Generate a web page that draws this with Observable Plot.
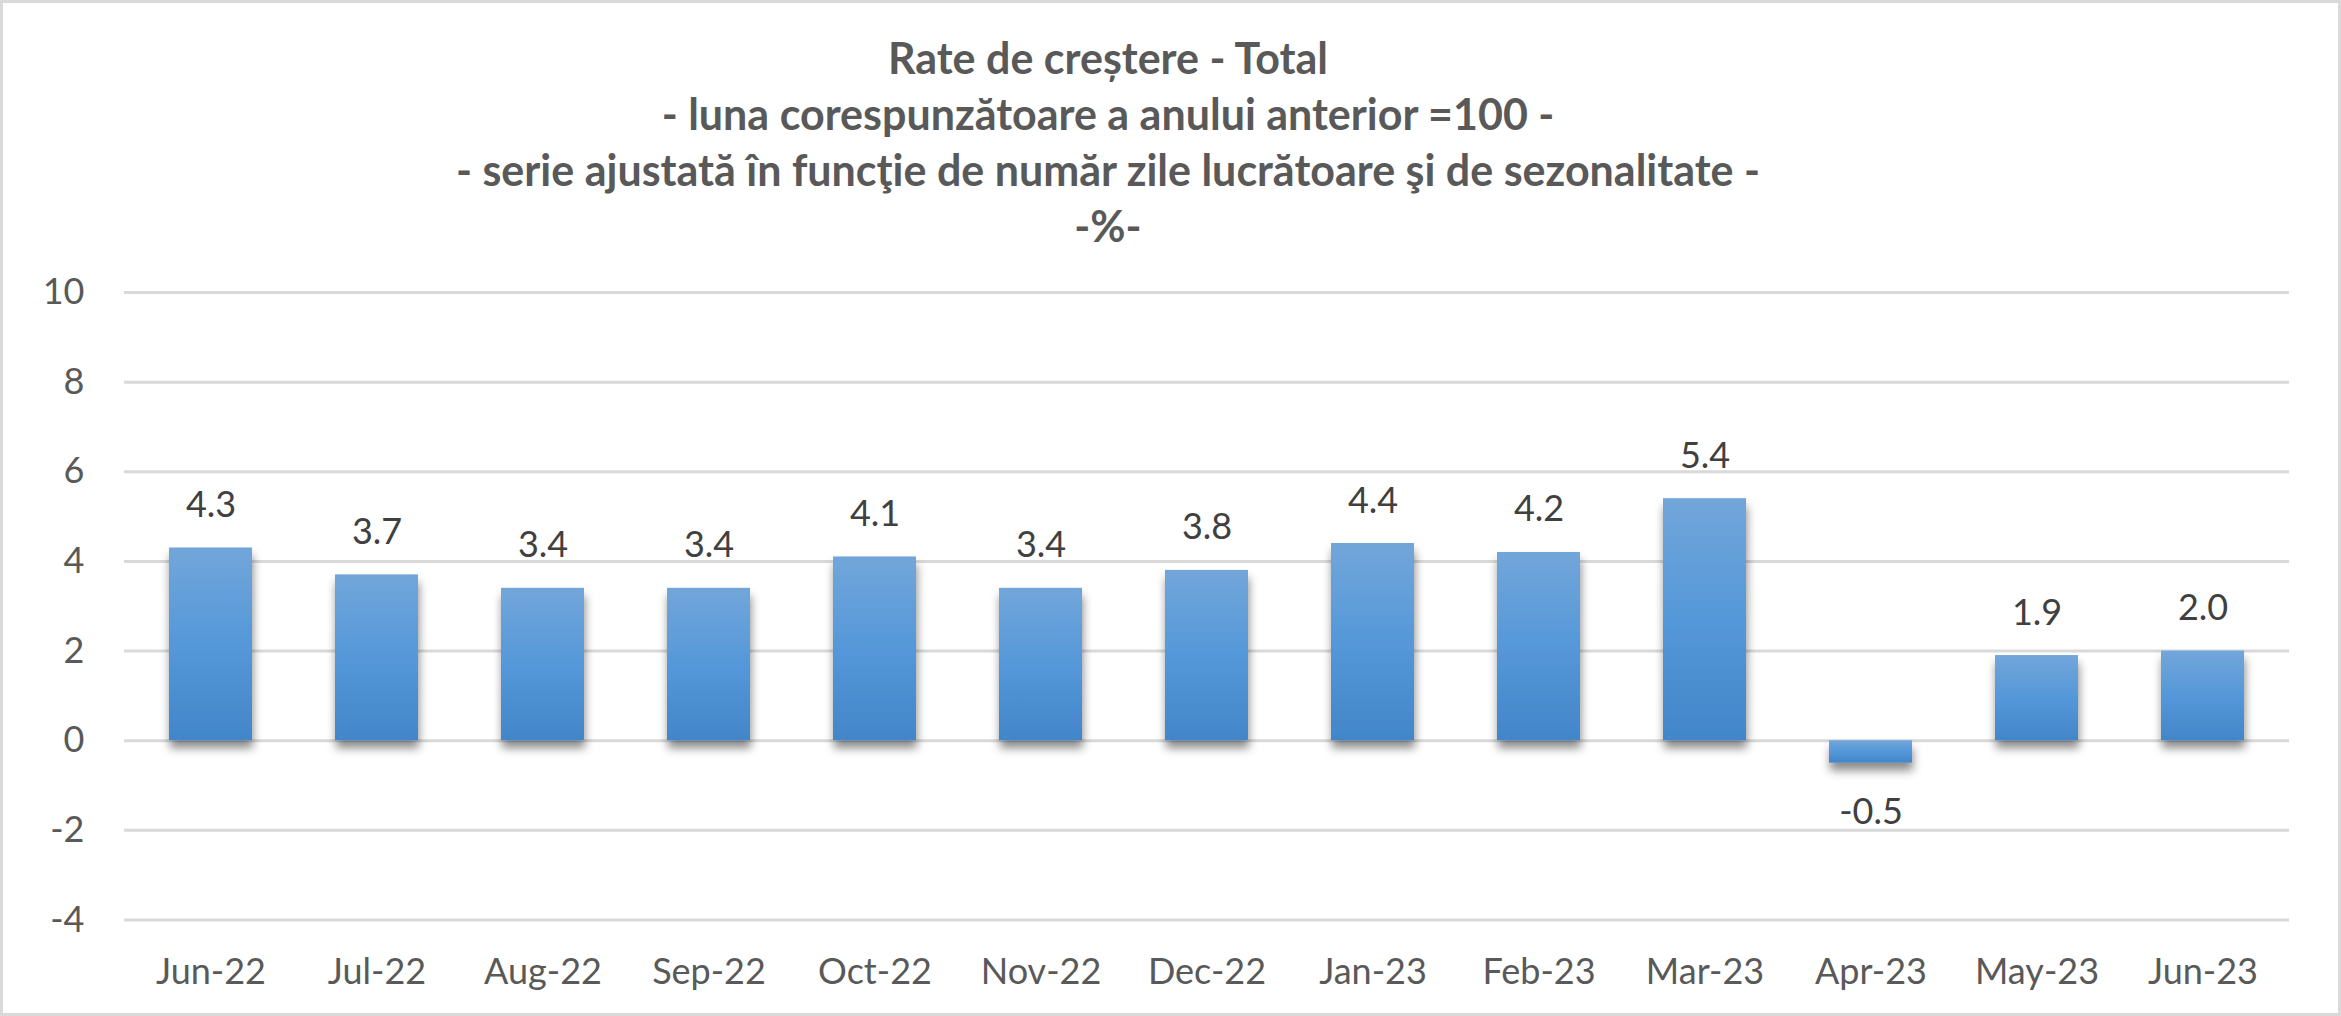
<!DOCTYPE html>
<html>
<head>
<meta charset="utf-8">
<script src="https://cdn.jsdelivr.net/npm/d3@7"></script>
<script src="https://cdn.jsdelivr.net/npm/@observablehq/plot@0.6"></script>
<style>
  html, body { margin: 0; padding: 0; background: #ffffff; }
  #wrap { position: relative; width: 2341px; height: 1016px; overflow: hidden; background: #fff; }
  #frame { position: absolute; left: 0; top: 0; width: 2341px; height: 1016px; box-sizing: border-box; border: 3px solid #d9d9d9; pointer-events: none; }
  #title { position: absolute; left: 308px; top: 30px; width: 1600px; text-align: center;
           font-family: Lato, "Open Sans", sans-serif; font-weight: 700; font-size: 43px; line-height: 56px; color: #595959; }
  #chart { position: absolute; left: 0; top: 262px; }
</style>
</head>
<body>
<div id="wrap">
  <div id="title">
    <div>Rate de creștere - Total</div>
    <div>- luna corespunzătoare a anului anterior =100 -</div>
    <div>- serie ajustată în funcţie de număr zile lucrătoare şi de sezonalitate -</div>
    <div>-%-</div>
  </div>
  <div id="chart"></div>
  <div id="frame"></div>
</div>
<script>
const months = ["Jun-22","Jul-22","Aug-22","Sep-22","Oct-22","Nov-22","Dec-22","Jan-23","Feb-23","Mar-23","Apr-23","May-23","Jun-23"];
const values = [4.3, 3.7, 3.4, 3.4, 4.1, 3.4, 3.8, 4.4, 4.2, 5.4, -0.5, 1.9, 2.0];
const yTicks = [-4, -2, 0, 2, 4, 6, 8, 10];

const data = months.map((m, i) => ({month: m, value: values[i]}));
const fmt = v => v.toFixed(1);

const chart = Plot.plot({
  width: 2341,
  height: 754,
  marginTop: 30,
  marginBottom: 96.5,
  marginLeft: 124,
  marginRight: 52,
  style: {fontFamily: "Lato, 'Open Sans', sans-serif", color: "#595959", background: "transparent", overflow: "visible"},
  x: {domain: months, paddingInner: 0.5, paddingOuter: 0.25, label: null},
  y: {domain: [-4, 10], label: null},
  marks: [
    Plot.gridY(yTicks, {stroke: "#d9d9d9", strokeWidth: 3, strokeOpacity: 1}),
    Plot.barY(data, {x: "month", y: "value", fill: "url(#barGrad)"}),
    Plot.text(data.filter(d => d.value >= 0), {x: "month", y: "value", text: d => fmt(d.value), lineAnchor: "bottom", dy: -31, fontSize: 36, fill: "#404040"}),
    Plot.text(data.filter(d => d.value < 0), {x: "month", y: "value", text: d => fmt(d.value), lineAnchor: "top", dy: 35, fontSize: 36, fill: "#404040"}),
    Plot.axisY(yTicks, {tickSize: 0, tickPadding: 40, fontSize: 36, tickFormat: d => String(d), label: null}),
    Plot.axisX({tickSize: 0, tickPadding: 38, fontSize: 36, label: null})
  ]
});

const ns = "http://www.w3.org/2000/svg";
const defs = document.createElementNS(ns, "defs");
defs.innerHTML = `
  <linearGradient id="barGrad" x1="0" y1="0" x2="0" y2="1">
    <stop offset="0" stop-color="#72a6da"/>
    <stop offset="0.5" stop-color="#5598d9"/>
    <stop offset="1" stop-color="#4286c9"/>
  </linearGradient>
  <filter id="barShadow" x="-10%" y="-10%" width="120%" height="130%">
    <feDropShadow dx="1" dy="8" stdDeviation="5" flood-color="#000" flood-opacity="0.45"/>
  </filter>`;
chart.insertBefore(defs, chart.firstChild);
const barG = chart.querySelector('g[aria-label="bar"]');
if (barG) barG.setAttribute("filter", "url(#barShadow)");

document.getElementById("chart").appendChild(chart);
</script>
</body>
</html>
